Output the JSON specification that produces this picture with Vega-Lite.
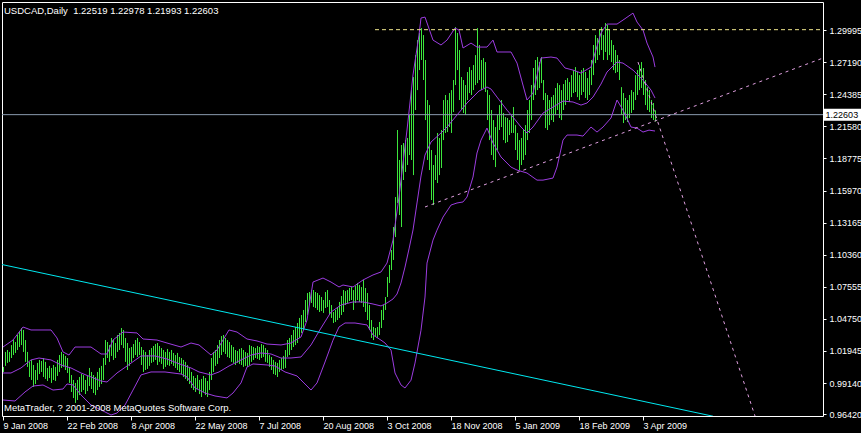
{
"$schema":"https://vega.github.io/schema/vega-lite/v6.json",
"width":821,"height":414,
"autosize":{"type":"none"},
"padding":{"left":2,"top":2,"right":38,"bottom":17},
"background":"black",
"config":{"view":{"stroke":null},"font":"Liberation Sans","axis":{"grid":false,"domainColor":"white","domainWidth":1,"tickColor":"white","labelColor":"white","labelFont":"Liberation Sans","labelFontSize":9}},
"resolve":{"axis":{"x":"independent","y":"independent"}},
"datasets":{
"bars":[
{"i":0,"h":1.0055,"l":1.0011},{"i":1,"h":1.0186,"l":1.0064},{"i":2,"h":1.0203,"l":1.0090},{"i":3,"h":1.0186,"l":1.0099},{"i":4,"h":1.0246,"l":1.0133},{"i":5,"h":1.0290,"l":1.0159},{"i":6,"h":1.0273,"l":1.0177},{"i":7,"h":1.0334,"l":1.0203},{"i":8,"h":1.0361,"l":1.0229},{"i":9,"h":1.0395,"l":1.0246},
{"i":10,"h":1.0378,"l":1.0186},{"i":11,"h":1.0290,"l":1.0099},{"i":12,"h":1.0186,"l":1.0055},{"i":13,"h":1.0099,"l":0.9967},{"i":14,"h":1.0116,"l":0.9941},{"i":15,"h":1.0072,"l":0.9880},{"i":16,"h":1.0028,"l":0.9906},{"i":17,"h":1.0090,"l":0.9941},{"i":18,"h":1.0116,"l":0.9993},{"i":19,"h":1.0107,"l":1.0011},
{"i":20,"h":1.0133,"l":0.9967},{"i":21,"h":1.0099,"l":0.9950},{"i":22,"h":1.0046,"l":0.9932},{"i":23,"h":1.0064,"l":0.9958},{"i":24,"h":1.0046,"l":0.9915},{"i":25,"h":1.0072,"l":0.9941},{"i":26,"h":1.0055,"l":0.9932},{"i":27,"h":1.0116,"l":0.9976},{"i":28,"h":1.0159,"l":1.0011},{"i":29,"h":1.0186,"l":1.0046},
{"i":30,"h":1.0168,"l":1.0055},{"i":31,"h":1.0151,"l":1.0028},{"i":32,"h":1.0133,"l":1.0002},{"i":33,"h":1.0046,"l":0.9915},{"i":34,"h":0.9984,"l":0.9836},{"i":35,"h":0.9941,"l":0.9783},{"i":36,"h":0.9915,"l":0.9740},{"i":37,"h":0.9941,"l":0.9766},{"i":38,"h":0.9967,"l":0.9809},{"i":39,"h":0.9993,"l":0.9836},
{"i":40,"h":0.9984,"l":0.9853},{"i":41,"h":0.9941,"l":0.9818},{"i":42,"h":0.9976,"l":0.9844},{"i":43,"h":1.0046,"l":0.9888},{"i":44,"h":1.0011,"l":0.9862},{"i":45,"h":0.9984,"l":0.9827},{"i":46,"h":0.9967,"l":0.9809},{"i":47,"h":1.0011,"l":0.9853},{"i":48,"h":1.0046,"l":0.9880},{"i":49,"h":1.0064,"l":0.9906},
{"i":50,"h":1.0133,"l":0.9941},{"i":51,"h":1.0290,"l":1.0072},{"i":52,"h":1.0273,"l":1.0133},{"i":53,"h":1.0246,"l":1.0099},{"i":54,"h":1.0308,"l":1.0151},{"i":55,"h":1.0290,"l":1.0116},{"i":56,"h":1.0264,"l":1.0133},{"i":57,"h":1.0334,"l":1.0186},{"i":58,"h":1.0352,"l":1.0203},{"i":59,"h":1.0395,"l":1.0246},
{"i":60,"h":1.0378,"l":1.0220},{"i":61,"h":1.0308,"l":1.0099},{"i":62,"h":1.0264,"l":1.0028},{"i":63,"h":1.0220,"l":1.0064},{"i":64,"h":1.0229,"l":1.0099},{"i":65,"h":1.0255,"l":1.0133},{"i":66,"h":1.0290,"l":1.0159},{"i":67,"h":1.0308,"l":1.0142},{"i":68,"h":1.0273,"l":1.0159},{"i":69,"h":1.0229,"l":1.0072},
{"i":70,"h":1.0203,"l":1.0011},{"i":71,"h":1.0186,"l":1.0028},{"i":72,"h":1.0159,"l":1.0037},{"i":73,"h":1.0203,"l":1.0064},{"i":74,"h":1.0220,"l":1.0090},{"i":75,"h":1.0238,"l":1.0099},{"i":76,"h":1.0255,"l":1.0116},{"i":77,"h":1.0264,"l":1.0072},{"i":78,"h":1.0238,"l":1.0099},{"i":79,"h":1.0220,"l":1.0081},
{"i":80,"h":1.0203,"l":1.0037},{"i":81,"h":1.0186,"l":1.0055},{"i":82,"h":1.0212,"l":1.0072},{"i":83,"h":1.0186,"l":1.0064},{"i":84,"h":1.0203,"l":1.0081},{"i":85,"h":1.0177,"l":1.0064},{"i":86,"h":1.0159,"l":1.0046},{"i":87,"h":1.0177,"l":1.0028},{"i":88,"h":1.0142,"l":1.0011},{"i":89,"h":1.0133,"l":0.9993},
{"i":90,"h":1.0116,"l":0.9967},{"i":91,"h":1.0099,"l":0.9950},{"i":92,"h":1.0072,"l":0.9932},{"i":93,"h":1.0046,"l":0.9906},{"i":94,"h":1.0011,"l":0.9871},{"i":95,"h":0.9976,"l":0.9853},{"i":96,"h":0.9958,"l":0.9836},{"i":97,"h":0.9984,"l":0.9862},{"i":98,"h":0.9941,"l":0.9818},{"i":99,"h":0.9950,"l":0.9792},
{"i":100,"h":0.9976,"l":0.9836},{"i":101,"h":0.9958,"l":0.9809},{"i":102,"h":0.9932,"l":0.9792},{"i":103,"h":1.0011,"l":0.9853},{"i":104,"h":1.0133,"l":0.9941},{"i":105,"h":1.0186,"l":1.0011},{"i":106,"h":1.0203,"l":1.0064},{"i":107,"h":1.0246,"l":1.0081},{"i":108,"h":1.0290,"l":1.0133},{"i":109,"h":1.0325,"l":1.0159},
{"i":110,"h":1.0334,"l":1.0186},{"i":111,"h":1.0308,"l":1.0168},{"i":112,"h":1.0290,"l":1.0142},{"i":113,"h":1.0273,"l":1.0133},{"i":114,"h":1.0246,"l":1.0099},{"i":115,"h":1.0229,"l":1.0090},{"i":116,"h":1.0203,"l":1.0072},{"i":117,"h":1.0194,"l":1.0090},{"i":118,"h":1.0212,"l":1.0081},{"i":119,"h":1.0220,"l":1.0072},
{"i":120,"h":1.0203,"l":1.0055},{"i":121,"h":1.0186,"l":1.0064},{"i":122,"h":1.0177,"l":1.0055},{"i":123,"h":1.0246,"l":1.0072},{"i":124,"h":1.0238,"l":1.0099},{"i":125,"h":1.0229,"l":1.0116},{"i":126,"h":1.0220,"l":1.0133},{"i":127,"h":1.0238,"l":1.0125},{"i":128,"h":1.0229,"l":1.0116},{"i":129,"h":1.0255,"l":1.0133},
{"i":130,"h":1.0246,"l":1.0142},{"i":131,"h":1.0220,"l":1.0099},{"i":132,"h":1.0203,"l":1.0090},{"i":133,"h":1.0159,"l":1.0055},{"i":134,"h":1.0142,"l":1.0028},{"i":135,"h":1.0116,"l":0.9993},{"i":136,"h":1.0099,"l":0.9984},{"i":137,"h":1.0090,"l":0.9967},{"i":138,"h":1.0116,"l":1.0011},{"i":139,"h":1.0133,"l":1.0028},
{"i":140,"h":1.0151,"l":1.0037},{"i":141,"h":1.0203,"l":1.0046},{"i":142,"h":1.0290,"l":1.0142},{"i":143,"h":1.0308,"l":1.0159},{"i":144,"h":1.0334,"l":1.0203},{"i":145,"h":1.0378,"l":1.0229},{"i":146,"h":1.0404,"l":1.0246},{"i":147,"h":1.0439,"l":1.0264},{"i":148,"h":1.0483,"l":1.0308},{"i":149,"h":1.0509,"l":1.0352},
{"i":150,"h":1.0553,"l":1.0378},{"i":151,"h":1.0640,"l":1.0448},{"i":152,"h":1.0701,"l":1.0509},{"i":153,"h":1.0710,"l":1.0596},{"i":154,"h":1.0727,"l":1.0614},{"i":155,"h":1.0727,"l":1.0579},{"i":156,"h":1.0710,"l":1.0570},{"i":157,"h":1.0701,"l":1.0553},{"i":158,"h":1.0683,"l":1.0535},{"i":159,"h":1.0666,"l":1.0544},
{"i":160,"h":1.0640,"l":1.0527},{"i":161,"h":1.0710,"l":1.0570},{"i":162,"h":1.0727,"l":1.0579},{"i":163,"h":1.0640,"l":1.0509},{"i":164,"h":1.0596,"l":1.0483},{"i":165,"h":1.0535,"l":1.0439},{"i":166,"h":1.0553,"l":1.0448},{"i":167,"h":1.0579,"l":1.0465},{"i":168,"h":1.0623,"l":1.0483},{"i":169,"h":1.0675,"l":1.0509},
{"i":170,"h":1.0727,"l":1.0535},{"i":171,"h":1.0718,"l":1.0596},{"i":172,"h":1.0727,"l":1.0614},{"i":173,"h":1.0745,"l":1.0631},{"i":174,"h":1.0753,"l":1.0640},{"i":175,"h":1.0727,"l":1.0553},{"i":176,"h":1.0762,"l":1.0614},{"i":177,"h":1.0789,"l":1.0640},{"i":178,"h":1.0771,"l":1.0623},{"i":179,"h":1.0753,"l":1.0614},
{"i":180,"h":1.0815,"l":1.0579},{"i":181,"h":1.0745,"l":1.0535},{"i":182,"h":1.0701,"l":1.0465},{"i":183,"h":1.0596,"l":1.0378},{"i":184,"h":1.0465,"l":1.0308},{"i":185,"h":1.0404,"l":1.0290},{"i":186,"h":1.0395,"l":1.0317},{"i":187,"h":1.0404,"l":1.0308},{"i":188,"h":1.0448,"l":1.0334},{"i":189,"h":1.0553,"l":1.0395},
{"i":190,"h":1.0596,"l":1.0465},{"i":191,"h":1.0666,"l":1.0553},{"i":192,"h":1.0841,"l":1.0666},{"i":193,"h":1.0946,"l":1.0789},{"i":194,"h":1.1077,"l":1.0902},{"i":195,"h":1.1278,"l":1.0990},{"i":196,"h":1.1540,"l":1.1190},{"i":197,"h":1.2126,"l":1.1488},{"i":198,"h":1.1864,"l":1.1383},{"i":199,"h":1.1995,"l":1.1278},
{"i":200,"h":1.2012,"l":1.1689},{"i":201,"h":1.2038,"l":1.1759},{"i":202,"h":1.2056,"l":1.1820},{"i":203,"h":1.2257,"l":1.1907},{"i":204,"h":1.2475,"l":1.1864},{"i":205,"h":1.2589,"l":1.1732},{"i":206,"h":1.2781,"l":1.2301},{"i":207,"h":1.2912,"l":1.2475},{"i":208,"h":1.2974,"l":1.2650},{"i":209,"h":1.3017,"l":1.2738},
{"i":210,"h":1.2956,"l":1.2563},{"i":211,"h":1.2738,"l":1.2213},{"i":212,"h":1.2388,"l":1.1864},{"i":213,"h":1.2344,"l":1.1776},{"i":214,"h":1.1951,"l":1.1514},{"i":215,"h":1.1820,"l":1.1470},{"i":216,"h":1.1907,"l":1.1689},{"i":217,"h":1.2100,"l":1.1663},{"i":218,"h":1.2056,"l":1.1732},{"i":219,"h":1.2126,"l":1.1794},
{"i":220,"h":1.2388,"l":1.2038},{"i":221,"h":1.2432,"l":1.2100},{"i":222,"h":1.2388,"l":1.2108},{"i":223,"h":1.2449,"l":1.2152},{"i":224,"h":1.2475,"l":1.2100},{"i":225,"h":1.2563,"l":1.2283},{"i":226,"h":1.3026,"l":1.2519},{"i":227,"h":1.2974,"l":1.2650},{"i":228,"h":1.2825,"l":1.2388},{"i":229,"h":1.2589,"l":1.2301},
{"i":230,"h":1.2563,"l":1.2275},{"i":231,"h":1.2519,"l":1.2257},{"i":232,"h":1.2633,"l":1.2388},{"i":233,"h":1.2676,"l":1.2449},{"i":234,"h":1.2650,"l":1.2432},{"i":235,"h":1.2694,"l":1.2475},{"i":236,"h":1.2781,"l":1.2519},{"i":237,"h":1.3017,"l":1.2536},{"i":238,"h":1.2869,"l":1.2563},{"i":239,"h":1.2738,"l":1.2475},
{"i":240,"h":1.2755,"l":1.2493},{"i":241,"h":1.2720,"l":1.2458},{"i":242,"h":1.2475,"l":1.2213},{"i":243,"h":1.2432,"l":1.2038},{"i":244,"h":1.2301,"l":1.1907},{"i":245,"h":1.2213,"l":1.1864},{"i":246,"h":1.2152,"l":1.1802},{"i":247,"h":1.2257,"l":1.1951},{"i":248,"h":1.2344,"l":1.2126},{"i":249,"h":1.2388,"l":1.2152},
{"i":250,"h":1.2275,"l":1.2038},{"i":251,"h":1.2239,"l":1.2012},{"i":252,"h":1.2231,"l":1.2021},{"i":253,"h":1.2213,"l":1.2082},{"i":254,"h":1.2257,"l":1.2100},{"i":255,"h":1.2327,"l":1.2100},{"i":256,"h":1.2169,"l":1.1951},{"i":257,"h":1.2100,"l":1.1864},{"i":258,"h":1.2038,"l":1.1776},{"i":259,"h":1.2056,"l":1.1820},
{"i":260,"h":1.2126,"l":1.1864},{"i":261,"h":1.2169,"l":1.1907},{"i":262,"h":1.2301,"l":1.2038},{"i":263,"h":1.2388,"l":1.2100},{"i":264,"h":1.2519,"l":1.2213},{"i":265,"h":1.2668,"l":1.2388},{"i":266,"h":1.2738,"l":1.2432},{"i":267,"h":1.2764,"l":1.2475},{"i":268,"h":1.2720,"l":1.2493},{"i":269,"h":1.2764,"l":1.2536},
{"i":270,"h":1.2563,"l":1.2388},{"i":271,"h":1.2449,"l":1.2143},{"i":272,"h":1.2432,"l":1.2126},{"i":273,"h":1.2388,"l":1.2169},{"i":274,"h":1.2414,"l":1.2213},{"i":275,"h":1.2432,"l":1.2196},{"i":276,"h":1.2493,"l":1.2257},{"i":277,"h":1.2536,"l":1.2301},{"i":278,"h":1.2519,"l":1.2231},{"i":279,"h":1.2475,"l":1.2213},
{"i":280,"h":1.2528,"l":1.2301},{"i":281,"h":1.2563,"l":1.2344},{"i":282,"h":1.2580,"l":1.2388},{"i":283,"h":1.2545,"l":1.2371},{"i":284,"h":1.2606,"l":1.2414},{"i":285,"h":1.2650,"l":1.2449},{"i":286,"h":1.2676,"l":1.2458},{"i":287,"h":1.2633,"l":1.2414},{"i":288,"h":1.2606,"l":1.2388},{"i":289,"h":1.2650,"l":1.2432},
{"i":290,"h":1.2668,"l":1.2458},{"i":291,"h":1.2633,"l":1.2406},{"i":292,"h":1.2580,"l":1.2388},{"i":293,"h":1.2650,"l":1.2432},{"i":294,"h":1.2738,"l":1.2519},{"i":295,"h":1.2869,"l":1.2606},{"i":296,"h":1.2956,"l":1.2711},{"i":297,"h":1.2930,"l":1.2738},{"i":298,"h":1.3000,"l":1.2781},{"i":299,"h":1.3026,"l":1.2825},
{"i":300,"h":1.2956,"l":1.2738},{"i":301,"h":1.3061,"l":1.2808},{"i":302,"h":1.3044,"l":1.2738},{"i":303,"h":1.3000,"l":1.2781},{"i":304,"h":1.2912,"l":1.2720},{"i":305,"h":1.2869,"l":1.2650},{"i":306,"h":1.2825,"l":1.2624},{"i":307,"h":1.2781,"l":1.2633},{"i":308,"h":1.2738,"l":1.2563},{"i":309,"h":1.2501,"l":1.2257},
{"i":310,"h":1.2449,"l":1.2187},{"i":311,"h":1.2406,"l":1.2213},{"i":312,"h":1.2388,"l":1.2196},{"i":313,"h":1.2432,"l":1.2231},{"i":314,"h":1.2475,"l":1.2275},{"i":315,"h":1.2458,"l":1.2301},{"i":316,"h":1.2606,"l":1.2388},{"i":317,"h":1.2650,"l":1.2432},{"i":318,"h":1.2694,"l":1.2475},{"i":319,"h":1.2720,"l":1.2493},
{"i":320,"h":1.2668,"l":1.2432},{"i":321,"h":1.2563,"l":1.2344},{"i":322,"h":1.2501,"l":1.2301},{"i":323,"h":1.2475,"l":1.2283},{"i":324,"h":1.2388,"l":1.2231},{"i":325,"h":1.2362,"l":1.2213},{"i":326,"h":1.22978,"l":1.21993}
],
"bands":[
{"b":"u","i":0,"p":1.0229},{"b":"u","i":5,"p":1.0290},{"b":"u","i":10,"p":1.0404},{"b":"u","i":14,"p":1.0378},{"b":"u","i":18,"p":1.0378},{"b":"u","i":24,"p":1.0378},{"b":"u","i":27,"p":1.0308},{"b":"u","i":30,"p":1.0186},{"b":"u","i":33,"p":1.0159},{"b":"u","i":36,"p":1.0229},{"b":"u","i":44,"p":1.0229},{"b":"u","i":49,"p":1.0168},{"b":"u","i":52,"p":1.0168},{"b":"u","i":55,"p":1.0290},{"b":"u","i":60,"p":1.0360},{"b":"u","i":67,"p":1.0352},{"b":"u","i":70,"p":1.0299},{"b":"u","i":77,"p":1.0290},{"b":"u","i":82,"p":1.0264},{"b":"u","i":89,"p":1.0229},{"b":"u","i":94,"p":1.0264},{"b":"u","i":98,"p":1.0247},{"b":"u","i":104,"p":1.0159},{"b":"u","i":107,"p":1.0203},{"b":"u","i":113,"p":1.0378},{"b":"u","i":117,"p":1.0360},{"b":"u","i":122,"p":1.0299},{"b":"u","i":127,"p":1.0282},{"b":"u","i":132,"p":1.0255},{"b":"u","i":139,"p":1.0247},{"b":"u","i":144,"p":1.0264},{"b":"u","i":149,"p":1.0317},{"b":"u","i":152,"p":1.0465},{"b":"u","i":155,"p":1.0797},{"b":"u","i":160,"p":1.0832},{"b":"u","i":164,"p":1.0797},{"b":"u","i":168,"p":1.0754},{"b":"u","i":170,"p":1.0771},{"b":"u","i":175,"p":1.0754},{"b":"u","i":180,"p":1.0815},{"b":"u","i":185,"p":1.0859},{"b":"u","i":189,"p":1.0885},{"b":"u","i":192,"p":1.0963},{"b":"u","i":195,"p":1.1164},{"b":"u","i":198,"p":1.1540},{"b":"u","i":200,"p":1.1837},{"b":"u","i":202,"p":1.2126},{"b":"u","i":205,"p":1.2607},{"b":"u","i":208,"p":1.2956},{"b":"u","i":209,"p":1.3105},{"b":"u","i":211,"p":1.3113},{"b":"u","i":215,"p":1.2912},{"b":"u","i":219,"p":1.2869},{"b":"u","i":222,"p":1.2912},{"b":"u","i":226,"p":1.3017},{"b":"u","i":228,"p":1.3000},{"b":"u","i":230,"p":1.2843},{"b":"u","i":234,"p":1.2886},{"b":"u","i":237,"p":1.2851},{"b":"u","i":242,"p":1.2851},{"b":"u","i":245,"p":1.2912},{"b":"u","i":247,"p":1.2808},{"b":"u","i":254,"p":1.2808},{"b":"u","i":257,"p":1.2711},{"b":"u","i":262,"p":1.2388},{"b":"u","i":265,"p":1.2449},{"b":"u","i":269,"p":1.2755},{"b":"u","i":274,"p":1.2764},{"b":"u","i":277,"p":1.2755},{"b":"u","i":281,"p":1.2668},{"b":"u","i":285,"p":1.2650},{"b":"u","i":289,"p":1.2624},{"b":"u","i":294,"p":1.2676},{"b":"u","i":296,"p":1.2799},{"b":"u","i":299,"p":1.2974},{"b":"u","i":302,"p":1.3052},{"b":"u","i":307,"p":1.3052},{"b":"u","i":310,"p":1.3087},{"b":"u","i":315,"p":1.3148},{"b":"u","i":317,"p":1.3070},{"b":"u","i":320,"p":1.3000},{"b":"u","i":322,"p":1.2886},{"b":"u","i":325,"p":1.2764},{"b":"u","i":326,"p":1.2676},
{"b":"m","i":0,"p":1.0002},{"b":"m","i":4,"p":1.0002},{"b":"m","i":9,"p":1.0046},{"b":"m","i":14,"p":1.0116},{"b":"m","i":18,"p":1.0133},{"b":"m","i":24,"p":1.0116},{"b":"m","i":29,"p":1.0072},{"b":"m","i":34,"p":1.0046},{"b":"m","i":39,"p":1.0002},{"b":"m","i":44,"p":0.9967},{"b":"m","i":49,"p":0.9932},{"b":"m","i":52,"p":0.9923},{"b":"m","i":57,"p":1.0002},{"b":"m","i":62,"p":1.0063},{"b":"m","i":69,"p":1.0151},{"b":"m","i":76,"p":1.0151},{"b":"m","i":82,"p":1.0124},{"b":"m","i":87,"p":1.0089},{"b":"m","i":94,"p":1.0046},{"b":"m","i":98,"p":1.0011},{"b":"m","i":104,"p":0.9985},{"b":"m","i":108,"p":1.0011},{"b":"m","i":113,"p":1.0063},{"b":"m","i":119,"p":1.0116},{"b":"m","i":124,"p":1.0159},{"b":"m","i":129,"p":1.0177},{"b":"m","i":134,"p":1.0168},{"b":"m","i":139,"p":1.0133},{"b":"m","i":144,"p":1.0133},{"b":"m","i":149,"p":1.0142},{"b":"m","i":154,"p":1.0247},{"b":"m","i":159,"p":1.0395},{"b":"m","i":164,"p":1.0535},{"b":"m","i":169,"p":1.0596},{"b":"m","i":175,"p":1.0623},{"b":"m","i":180,"p":1.0623},{"b":"m","i":185,"p":1.0605},{"b":"m","i":189,"p":1.0588},{"b":"m","i":192,"p":1.0614},{"b":"m","i":195,"p":1.0649},{"b":"m","i":197,"p":1.0692},{"b":"m","i":199,"p":1.0789},{"b":"m","i":201,"p":1.0928},{"b":"m","i":203,"p":1.1086},{"b":"m","i":205,"p":1.1252},{"b":"m","i":207,"p":1.1488},{"b":"m","i":209,"p":1.1724},{"b":"m","i":211,"p":1.1907},{"b":"m","i":214,"p":1.2021},{"b":"m","i":219,"p":1.2100},{"b":"m","i":222,"p":1.2152},{"b":"m","i":227,"p":1.2257},{"b":"m","i":232,"p":1.2362},{"b":"m","i":238,"p":1.2467},{"b":"m","i":242,"p":1.2502},{"b":"m","i":244,"p":1.2484},{"b":"m","i":247,"p":1.2414},{"b":"m","i":252,"p":1.2300},{"b":"m","i":255,"p":1.2239},{"b":"m","i":259,"p":1.2152},{"b":"m","i":262,"p":1.2100},{"b":"m","i":265,"p":1.2152},{"b":"m","i":270,"p":1.2274},{"b":"m","i":275,"p":1.2327},{"b":"m","i":280,"p":1.2379},{"b":"m","i":285,"p":1.2371},{"b":"m","i":289,"p":1.2344},{"b":"m","i":292,"p":1.2362},{"b":"m","i":295,"p":1.2414},{"b":"m","i":299,"p":1.2528},{"b":"m","i":302,"p":1.2633},{"b":"m","i":307,"p":1.2720},{"b":"m","i":310,"p":1.2711},{"b":"m","i":315,"p":1.2650},{"b":"m","i":320,"p":1.2562},{"b":"m","i":324,"p":1.2475},{"b":"m","i":326,"p":1.2406},
{"b":"l","i":0,"p":0.9766},{"b":"l","i":6,"p":0.9757},{"b":"l","i":11,"p":0.9836},{"b":"l","i":15,"p":0.9888},{"b":"l","i":20,"p":0.9897},{"b":"l","i":25,"p":0.9853},{"b":"l","i":30,"p":0.9862},{"b":"l","i":32,"p":0.9906},{"b":"l","i":35,"p":0.9897},{"b":"l","i":39,"p":0.9810},{"b":"l","i":44,"p":0.9722},{"b":"l","i":49,"p":0.9679},{"b":"l","i":54,"p":0.9635},{"b":"l","i":57,"p":0.9652},{"b":"l","i":61,"p":0.9722},{"b":"l","i":65,"p":0.9853},{"b":"l","i":69,"p":0.9985},{"b":"l","i":74,"p":1.0011},{"b":"l","i":81,"p":1.0011},{"b":"l","i":89,"p":0.9993},{"b":"l","i":92,"p":0.9967},{"b":"l","i":96,"p":0.9871},{"b":"l","i":101,"p":0.9827},{"b":"l","i":106,"p":0.9801},{"b":"l","i":112,"p":0.9784},{"b":"l","i":115,"p":0.9827},{"b":"l","i":119,"p":0.9915},{"b":"l","i":122,"p":1.0054},{"b":"l","i":125,"p":1.0081},{"b":"l","i":132,"p":1.0072},{"b":"l","i":136,"p":1.0063},{"b":"l","i":141,"p":1.0011},{"b":"l","i":147,"p":0.9976},{"b":"l","i":150,"p":0.9923},{"b":"l","i":154,"p":0.9853},{"b":"l","i":157,"p":0.9915},{"b":"l","i":161,"p":1.0098},{"b":"l","i":165,"p":1.0289},{"b":"l","i":168,"p":1.0404},{"b":"l","i":171,"p":1.0439},{"b":"l","i":176,"p":1.0439},{"b":"l","i":182,"p":1.0422},{"b":"l","i":185,"p":1.0334},{"b":"l","i":189,"p":1.0289},{"b":"l","i":191,"p":1.0264},{"b":"l","i":194,"p":1.0202},{"b":"l","i":196,"p":1.0002},{"b":"l","i":199,"p":0.9897},{"b":"l","i":201,"p":0.9871},{"b":"l","i":204,"p":0.9939},{"b":"l","i":206,"p":1.0089},{"b":"l","i":209,"p":1.0376},{"b":"l","i":211,"p":1.0666},{"b":"l","i":212,"p":1.0963},{"b":"l","i":215,"p":1.1164},{"b":"l","i":217,"p":1.1251},{"b":"l","i":220,"p":1.1365},{"b":"l","i":224,"p":1.1470},{"b":"l","i":227,"p":1.1488},{"b":"l","i":230,"p":1.1497},{"b":"l","i":232,"p":1.1540},{"b":"l","i":235,"p":1.1715},{"b":"l","i":237,"p":1.1925},{"b":"l","i":239,"p":1.2038},{"b":"l","i":242,"p":1.2143},{"b":"l","i":245,"p":1.2012},{"b":"l","i":249,"p":1.1890},{"b":"l","i":254,"p":1.1802},{"b":"l","i":257,"p":1.1776},{"b":"l","i":262,"p":1.1750},{"b":"l","i":267,"p":1.1688},{"b":"l","i":270,"p":1.1688},{"b":"l","i":275,"p":1.1706},{"b":"l","i":277,"p":1.1802},{"b":"l","i":280,"p":1.2038},{"b":"l","i":282,"p":1.2082},{"b":"l","i":287,"p":1.2082},{"b":"l","i":290,"p":1.2073},{"b":"l","i":294,"p":1.2152},{"b":"l","i":297,"p":1.2108},{"b":"l","i":300,"p":1.2152},{"b":"l","i":304,"p":1.2231},{"b":"l","i":307,"p":1.2388},{"b":"l","i":310,"p":1.2300},{"b":"l","i":314,"p":1.2152},{"b":"l","i":317,"p":1.2143},{"b":"l","i":320,"p":1.2108},{"b":"l","i":323,"p":1.2125},{"b":"l","i":326,"p":1.2117}
],
"cyan":[{"i":-0.5,"p":1.0950},{"i":355,"p":0.9624}],
"yellow":[{"i":186,"p":1.3003},{"i":410,"p":1.3003}],
"pinkup":[{"i":211,"p":1.1453},{"i":410,"p":1.2755}],
"pinkdown":[{"i":317.5,"p":1.2720},{"i":376,"p":0.9626}],
"one":[{"last":1.22603}]
},
"layer":[
{"data":{"name":"bars"},"mark":{"type":"rule","color":"#3ce63c","strokeWidth":1,"xOffset":0.5},
 "encoding":{
  "x":{"field":"i","type":"quantitative","scale":{"domain":[-0.5,410],"nice":false,"zero":false},
   "axis":{"orient":"bottom","title":null,"values":[0,32,64,96,128,160,192,224,256,288,320],"labelExpr":"['9 Jan 2008','22 Feb 2008','8 Apr 2008','22 May 2008','7 Jul 2008','20 Aug 2008','3 Oct 2008','18 Nov 2008','5 Jan 2009','18 Feb 2009','3 Apr 2009'][round(datum.value/32)]","labelAlign":"left","labelBaseline":"top","labelPadding":1,"tickSize":4,"labelFlush":false,"labelOverlap":false,"labelBound":false}},
  "y":{"field":"l","type":"quantitative","scale":{"domain":[0.9626,1.3245],"nice":false,"zero":false},
   "axis":{"orient":"right","title":null,"values":[1.29995,1.2719,1.24385,1.2158,1.18775,1.1597,1.13165,1.1036,1.07555,1.0475,1.01945,0.9914,0.9642],"format":".5f","tickSize":3,"labelPadding":3,"labelBaseline":"middle","labelFlush":false,"labelOverlap":false,"labelBound":false}},
  "y2":{"field":"h"}}},
{"data":{"name":"one"},"mark":{"type":"rule","color":"#8a9aae","strokeWidth":1},
 "encoding":{"y":{"field":"last","type":"quantitative","axis":{"orient":"left","title":null,"labels":false,"ticks":false}}}},
{"data":{"name":"bands"},"mark":{"type":"line","color":"#9c3ce0","strokeWidth":1},
 "encoding":{"x":{"field":"i","type":"quantitative","axis":null},"y":{"field":"p","type":"quantitative","axis":null},"detail":{"field":"b"}}},
{"data":{"name":"cyan"},"mark":{"type":"line","color":"#00e8f0","strokeWidth":1,"clip":true},
 "encoding":{"x":{"field":"i","type":"quantitative","axis":{"orient":"top","title":null,"labels":false,"ticks":false}},"y":{"field":"p","type":"quantitative","axis":null}}},
{"data":{"name":"yellow"},"mark":{"type":"line","color":"#f0e68c","strokeWidth":1,"strokeDash":[4,3],"clip":true},
 "encoding":{"x":{"field":"i","type":"quantitative","axis":null},"y":{"field":"p","type":"quantitative","axis":null}}},
{"data":{"name":"pinkup"},"mark":{"type":"line","color":"#e0a0e0","strokeWidth":1,"strokeDash":[3,4],"clip":true},
 "encoding":{"x":{"field":"i","type":"quantitative","axis":null},"y":{"field":"p","type":"quantitative","axis":null}}},
{"data":{"name":"pinkdown"},"mark":{"type":"line","color":"#e0a0e0","strokeWidth":1,"strokeDash":[3,4],"clip":true},
 "encoding":{"x":{"field":"i","type":"quantitative","axis":null},"y":{"field":"p","type":"quantitative","axis":null}}},
{"data":{"name":"one"},"mark":{"type":"rect","color":"white"},
 "encoding":{"x":{"datum":410.5,"axis":null,"scale":{"domain":[-0.5,410],"nice":false,"zero":false}},"x2":{"datum":429.5},"y":{"datum":1.2312,"axis":null,"scale":{"domain":[0.9626,1.3245],"nice":false,"zero":false}},"y2":{"datum":1.2206}}},
{"data":{"name":"one"},"mark":{"type":"text","color":"black","align":"left","baseline":"middle","font":"Liberation Sans","fontSize":9},
 "encoding":{"x":{"datum":411.3,"axis":null},"y":{"field":"last","type":"quantitative","axis":null},"text":{"field":"last","type":"quantitative","format":".5f"}}},
{"data":{"name":"one"},"mark":{"type":"text","color":"white","text":"USDCAD,Daily\u00a0\u00a01.22519 1.22978 1.21993 1.22603","align":"left","baseline":"middle","font":"Liberation Sans","fontSize":9.5},
 "encoding":{"x":{"datum":0.5,"axis":null},"y":{"datum":1.3170,"axis":null}}},
{"data":{"name":"one"},"mark":{"type":"text","color":"white","text":"MetaTrader, ? 2001-2008 MetaQuotes Software Corp.","align":"left","baseline":"middle","font":"Liberation Sans","fontSize":9.5},
 "encoding":{"x":{"datum":0.5,"axis":null},"y":{"datum":0.9700,"axis":null}}}
]
}
